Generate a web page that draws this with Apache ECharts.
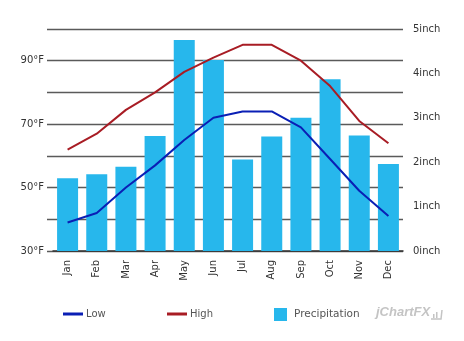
<!DOCTYPE html>
<html><head><meta charset="utf-8">
<script src="https://cdn.jsdelivr.net/npm/echarts@6/dist/echarts.min.js"></script>
<style>html,body{margin:0;padding:0;background:#fff}#c{width:464px;height:341px}</style>
</head><body><div id="c"></div>
<script>
const months = ['Jan','Feb','Mar','Apr','May','Jun','Jul','Aug','Sep','Oct','Nov','Dec'];
const lowTemps = [39, 42, 50, 57, 65, 72, 74, 74, 69, 59, 49, 41];
const highTemps = [62, 67, 74.5, 80, 86.5, 91, 95, 95, 90, 82, 71, 64];
const precipitation = [1.64, 1.73, 1.9, 2.59, 4.75, 4.3, 2.06, 2.58, 3.0, 3.87, 2.6, 1.96];
const tempRange = [30, 100];
const precipRange = [0, 5];

const FONT = 'DejaVu Sans';
const chart = echarts.init(document.getElementById('c'), null, {renderer: 'canvas'});
chart.setOption({
  animation: false,
  backgroundColor: '#ffffff',
  grid: [
    {left: 47, right: 61, top: 29, bottom: 90},
    {left: 53, right: 61, top: 29, bottom: 90}
  ],
  xAxis: [
    {gridIndex: 0, type: 'value', min: 0, max: 1, show: false},
    {gridIndex: 1, type: 'category', data: months,
     axisLine: {lineStyle: {color: '#333', width: 1.5}},
     axisTick: {show: false},
     axisLabel: {rotate: 90, margin: 9, fontFamily: FONT, fontSize: 10, color: '#333'}}
  ],
  yAxis: [
    {gridIndex: 0, type: 'value', min: tempRange[0], max: tempRange[1], interval: 10,
     axisLine: {show: false}, axisTick: {show: false},
     splitLine: {lineStyle: {color: '#5a5a5a', width: 1.4}},
     axisLabel: {margin: 3, fontFamily: FONT, fontSize: 10, color: '#333',
       formatter: v => ((v - 30) % 20 === 0 && v < 100) ? v + '°F' : ''}},
    {gridIndex: 1, type: 'value', min: tempRange[0], max: tempRange[1], show: false},
    {gridIndex: 1, type: 'value', position: 'right', min: precipRange[0], max: precipRange[1], interval: 1,
     axisLine: {show: false}, axisTick: {show: false}, splitLine: {show: false},
     axisLabel: {margin: 10, fontFamily: FONT, fontSize: 10, color: '#333', formatter: '{value}inch'}}
  ],
  legend: [
    {left: 58, top: 304, icon: 'rect', itemWidth: 20, itemHeight: 3, itemGap: 0,
     textStyle: {fontFamily: FONT, fontSize: 10, color: '#555', padding: [0,0,0,-2]}, data: ['Low']},
    {left: 162, top: 304, icon: 'rect', itemWidth: 20, itemHeight: 3, itemGap: 0,
     textStyle: {fontFamily: FONT, fontSize: 10, color: '#555', padding: [0,0,0,-2]}, data: ['High']},
    {left: 269, top: 303, icon: 'rect', itemWidth: 13, itemHeight: 13, itemGap: 0,
     textStyle: {fontFamily: FONT, fontSize: 10.5, color: '#555', padding: [0,0,0,2]}, data: ['Precipitation']}
  ],
  graphic: [
    {type: 'text', left: 376, top: 306,
     style: {text: 'jChartFX', fontFamily: 'Liberation Sans', fontSize: 13, fontStyle: 'italic', fontWeight: 'bold', fill: '#c4c4c4'}},
    {type: 'polyline', shape: {points: [[431, 319], [441, 319], [442, 310]]}, style: {stroke: '#c4c4c4', lineWidth: 1.5, fill: null}},
    {type: 'rect', shape: {x: 433, y: 314, width: 1.5, height: 4}, style: {fill: '#c4c4c4'}},
    {type: 'rect', shape: {x: 436, y: 312, width: 1.5, height: 6}, style: {fill: '#c4c4c4'}}
  ],
  series: [
    {name: 'Precipitation', type: 'bar', xAxisIndex: 1, yAxisIndex: 2, data: precipitation,
     barWidth: 21, itemStyle: {color: '#27B7EC'}},
    {name: 'Low', type: 'line', xAxisIndex: 1, yAxisIndex: 1, data: lowTemps,
     symbol: 'none', lineStyle: {color: '#0A1FB5', width: 2}, itemStyle: {color: '#0A1FB5'}},
    {name: 'High', type: 'line', xAxisIndex: 1, yAxisIndex: 1, data: highTemps,
     symbol: 'none', lineStyle: {color: '#A81C24', width: 2}, itemStyle: {color: '#A81C24'}}
  ]
});
</script></body></html>
